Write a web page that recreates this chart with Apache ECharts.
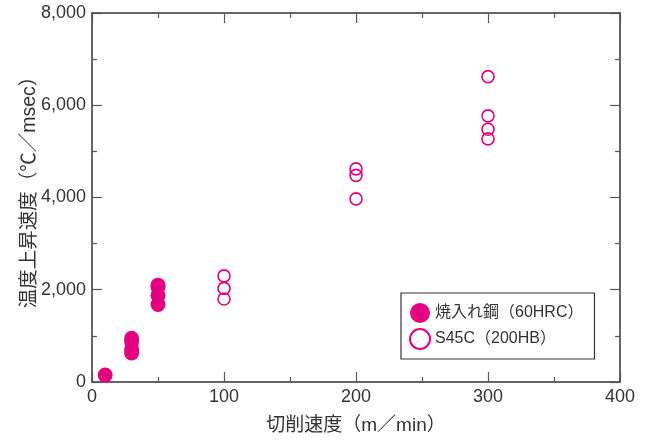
<!DOCTYPE html>
<html>
<head>
<meta charset="utf-8">
<script src="https://cdn.jsdelivr.net/npm/echarts@6/dist/echarts.min.js"></script>
<style>
  html, body { margin: 0; padding: 0; background: #fff; }
  #chart { width: 650px; height: 440px; }
</style>
</head>
<body>
<div id="chart"></div>
<script>
// Heating rate vs. cutting speed for two work materials
const hardenedName = '焼入れ鋼（60HRC）';
const hardenedSpeed = [10, 30, 30, 30, 30, 50, 50, 50, 50];
const hardenedRate  = [150, 950, 870, 700, 630, 2100, 2060, 1880, 1680];

const s45cName = 'S45C（200HB）';
const s45cSpeed = [100, 100, 100, 200, 200, 200, 300, 300, 300, 300];
const s45cRate  = [2300, 2030, 1800, 4620, 4480, 3970, 6620, 5770, 5480, 5270];

const xName = '切削速度（m／min）';
const yName = '温度上昇速度（℃／msec）';

const pink = '#E4007F';
const ink = '#333';
const font = '"Liberation Sans", "Noto Sans CJK JP", sans-serif';

const pairs = (xs, ys) => xs.map((x, i) => [x, ys[i]]);

const tickCommon = {
  axisLine: { show: true, onZero: false, lineStyle: { color: ink, width: 1.5 } },
  axisTick: { show: true, inside: true, length: 10, lineStyle: { color: '#555', width: 1.2 } },
  minorTick: { show: true, splitNumber: 2, length: 5, lineStyle: { color: '#555', width: 1.2 } },
  splitLine: { show: false },
  minorSplitLine: { show: false }
};

const chart = echarts.init(document.getElementById('chart'), null, { renderer: 'canvas' });
chart.setOption({
  animation: false,
  backgroundColor: '#fff',
  textStyle: { fontFamily: font },
  grid: { left: 92, right: 30, top: 13, bottom: 58 },
  xAxis: [
    Object.assign({
      type: 'value', min: 0, max: 400, interval: 100, position: 'bottom',
      name: xName, nameLocation: 'middle', nameGap: 34,
      nameTextStyle: { fontSize: 19, color: ink, fontFamily: font },
      axisLabel: { fontSize: 18, color: ink, margin: 6, fontFamily: font }
    }, tickCommon),
    Object.assign({
      type: 'value', min: 0, max: 400, interval: 100, position: 'top',
      axisLabel: { show: false }
    }, tickCommon)
  ],
  yAxis: [
    Object.assign({
      type: 'value', min: 0, max: 8000, interval: 2000, position: 'left',
      name: yName, nameLocation: 'middle', nameGap: 53, nameMoveOverlap: false,
      nameTextStyle: { fontSize: 19.5, color: ink, fontFamily: font, padding: [0, 0, 0, 20] },
      axisLabel: {
        fontSize: 18, color: ink, margin: 6, fontFamily: font,
        formatter: v => v.toLocaleString('en-US')
      }
    }, tickCommon),
    Object.assign({
      type: 'value', min: 0, max: 8000, interval: 2000, position: 'right',
      axisLabel: { show: false }
    }, tickCommon)
  ],
  legend: {
    orient: 'vertical',
    left: 401, top: 293,
    padding: [10, 11, 9, 8],
    itemWidth: 20, itemHeight: 20, itemGap: 5,
    backgroundColor: '#fff',
    borderColor: ink, borderWidth: 1.2, borderRadius: 0,
    textStyle: { fontSize: 16, color: ink, fontFamily: font },
    data: [
      { name: hardenedName, icon: 'circle' },
      { name: s45cName, icon: 'circle' }
    ]
  },
  series: [
    {
      name: hardenedName, type: 'scatter',
      symbol: 'circle', symbolSize: 15,
      itemStyle: { color: pink, opacity: 1 },
      data: pairs(hardenedSpeed, hardenedRate)
    },
    {
      name: s45cName, type: 'scatter',
      symbol: 'circle', symbolSize: 12,
      itemStyle: { color: 'rgba(255,255,255,0)', borderColor: pink, borderWidth: 1.6, opacity: 1 },
      data: pairs(s45cSpeed, s45cRate)
    }
  ]
});
</script>
</body>
</html>
